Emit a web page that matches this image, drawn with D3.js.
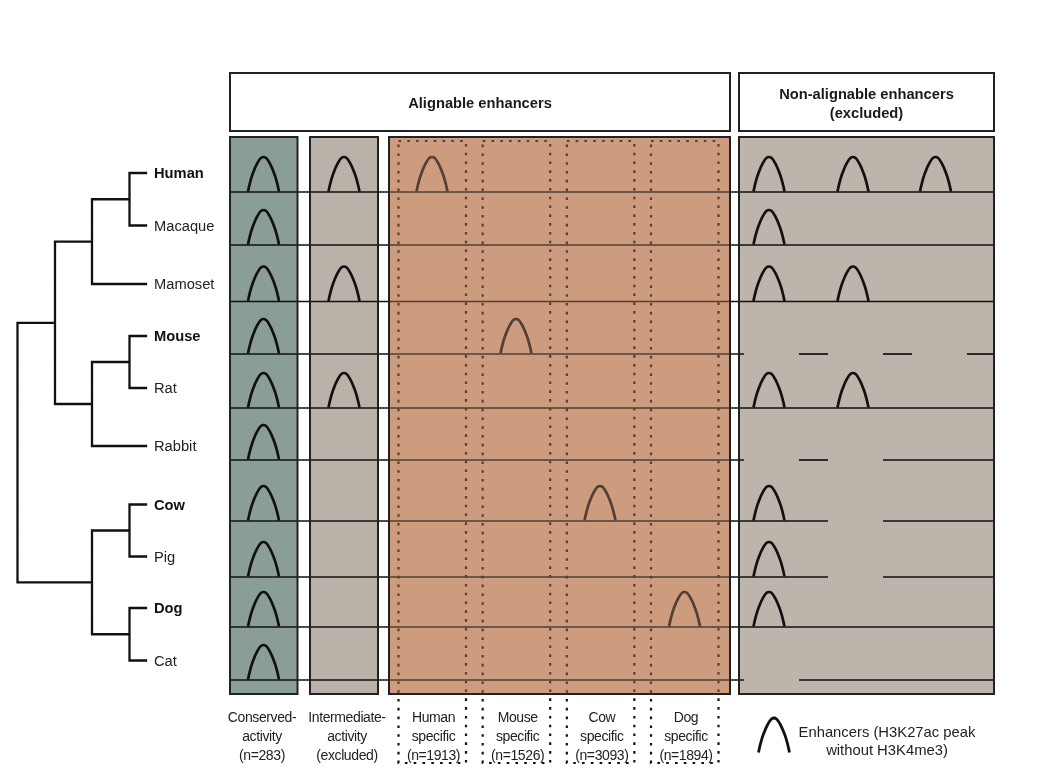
<!DOCTYPE html>
<html>
<head>
<meta charset="utf-8">
<title>Alignable and non-alignable enhancers</title>
<script src="https://cdn.jsdelivr.net/npm/d3@7"></script>
<style>
  html, body { margin: 0; background: #fff; }
  svg { display: block; filter: blur(0.4px); }
  text { font-family: "Liberation Sans", Arial, sans-serif; }
</style>
</head>
<body>
<div id="chart"></div>
<script>
// ── Data ─────────────────────────────────────
const species  = ["Human","Macaque","Mamoset","Mouse","Rat","Rabbit","Cow","Pig","Dog","Cat"];
const boldSpecies = ["Human","Mouse","Cow","Dog"];

// row positions, in px below the panel top
const rowBaseline = [55, 108, 164.5, 217, 271, 323, 384, 440, 490, 543];
const leafLevel   = [36, 88.5, 147, 199, 251, 309, 367.5, 419.5, 471, 523.5];

// column centres along the track, in px from its left end
const peakSlots = [33.5, 114, 202, 286, 370, 454.5, 539, 623, 705.5];

const conservedPeaks    = species;
const intermediatePeaks = ["Human","Mamoset","Rat"];
const humanPeaks  = ["Human"];
const mousePeaks  = ["Mouse"];
const cowPeaks    = ["Cow"];
const dogPeaks    = ["Dog"];
const nonAlign1   = ["Human","Macaque","Mamoset","Rat","Cow","Pig","Dog"];
const nonAlign2   = ["Human","Mamoset","Rat"];
const nonAlign3   = ["Human"];

// missing stretches of each track
const trackGaps = {
  Mouse:  [[514,569],[598,653],[682,737]],
  Rabbit: [[514,569],[598,653]],
  Cow:    [[598,653]],
  Pig:    [[598,653]],
  Cat:    [[514,569]],
};

const specificNames  = ["Human","Mouse","Cow","Dog"];
const specificCounts = [1913, 1526, 3093, 1894];
const headerAlign    = ["Alignable enhancers"];
const headerNon      = ["Non-alignable enhancers","(excluded)"];
const legendLines    = ["Enhancers (H3K27ac peak","without H3K4me3)"];

const phylogeny = { children: [
  { children: [
    { children: [ { children: [{name:"Human"},{name:"Macaque"}] }, {name:"Mamoset"} ] },
    { children: [ { children: [{name:"Mouse"},{name:"Rat"}] }, {name:"Rabbit"} ] },
  ]},
  { children: [
    { children: [{name:"Cow"},{name:"Pig"}] },
    { children: [{name:"Dog"},{name:"Cat"}] },
  ]},
]};

// ── Colours ──────────────────────────────────
const INK    = "#111111";
const TEAL   = "#8b9d97";
const TAUPE  = "#bab2a9";
const ORANGE = "#cd9b7e";
const LABEL  = "#222222";

// ── Layout ───────────────────────────────────
const W = 1038, H = 782;
const PANEL_TOP = 137, PANEL_BOTTOM = 694;
const TRACK_LEFT = 230, TRACK_RIGHT = 994;
const HEADER_TOP = 73, HEADER_BOTTOM = 131;
const PEAK_HEIGHT = 34.5, PEAK_HALF = 15.5;

const svg = d3.select("#chart").append("svg").attr("width", W).attr("height", H);

const yScale = d3.scaleLinear().domain([0, PANEL_BOTTOM - PANEL_TOP]).range([PANEL_TOP, PANEL_BOTTOM]);
const xScale = d3.scaleLinear().domain([0, TRACK_RIGHT - TRACK_LEFT]).range([TRACK_LEFT, TRACK_RIGHT]);
const rowY   = d3.scaleOrdinal().domain(species).range(rowBaseline.map(yScale));
const leafY  = d3.scaleOrdinal().domain(species).range(leafLevel.map(yScale));

// ── Panels ───────────────────────────────────
const panels = [
  { x0: 230, x1: 297.5, fill: TEAL },
  { x0: 310, x1: 378,   fill: TAUPE },
  { x0: 389, x1: 730,   fill: ORANGE },
  { x0: 739, x1: 994,   fill: "#bdb5ab" },
];
svg.append("g").selectAll("rect").data(panels).join("rect")
  .attr("x", d => d.x0).attr("y", PANEL_TOP)
  .attr("width", d => d.x1 - d.x0).attr("height", PANEL_BOTTOM - PANEL_TOP)
  .attr("fill", d => d.fill);

// ── Tracks (baselines with gaps) ─────────────
function trackSegments(name) {
  const gaps = trackGaps[name] || [];
  const edges = [0, ...gaps.flat(), TRACK_RIGHT - TRACK_LEFT];
  return d3.range(0, edges.length, 2).map(i => ({ name, from: edges[i], to: edges[i + 1] }));
}
svg.append("g").selectAll("line").data(species.flatMap(trackSegments)).join("line")
  .attr("x1", d => xScale(d.from)).attr("x2", d => xScale(d.to))
  .attr("y1", d => rowY(d.name)).attr("y2", d => rowY(d.name))
  .attr("stroke", INK).attr("stroke-width", 1.7);

// ── Peaks ────────────────────────────────────
const peakColumns = [conservedPeaks, intermediatePeaks, humanPeaks, mousePeaks, cowPeaks, dogPeaks,
  nonAlign1, nonAlign2, nonAlign3];

const peakPath = d3.line().curve(d3.curveCatmullRom.alpha(0.5))
  .x(d => d[0] * PEAK_HALF).y(d => -d[1] * PEAK_HEIGHT);
const peakShape = [[-1,0],[-.87,.26],[-.69,.52],[-.4,.82],[-.17,.97],[0,1],[.17,.97],[.4,.82],[.69,.52],[.87,.26],[1,0]];

svg.append("g").selectAll("path")
  .data(peakColumns.flatMap((names, i) => names.map(name => ({ name, slot: peakSlots[i] }))))
  .join("path")
  .attr("transform", d => `translate(${xScale(d.slot)},${rowY(d.name) - 0.5})`)
  .attr("d", peakPath(peakShape))
  .attr("fill", "none").attr("stroke", INK).attr("stroke-width", 2.7);

// ── Dotted species-specific boxes ────────────
const boxLeft = d3.scalePoint().domain(specificNames).range([398.5, 651]);
svg.append("g").selectAll("rect").data(specificNames).join("rect")
  .attr("x", d => boxLeft(d)).attr("y", 141)
  .attr("width", 67.5).attr("height", 622)
  .attr("fill", "none").attr("stroke", INK)
  .attr("stroke-width", 2.2).attr("stroke-dasharray", "2.6,6.2");

// Orange veil: everything under it turns brown, as in the figure
const orangePanel = panels[2];
svg.append("rect")
  .attr("x", orangePanel.x0).attr("y", PANEL_TOP)
  .attr("width", orangePanel.x1 - orangePanel.x0).attr("height", PANEL_BOTTOM - PANEL_TOP)
  .attr("fill", ORANGE).attr("fill-opacity", 0.34);

// Panel outlines
svg.append("g").selectAll("rect").data(panels).join("rect")
  .attr("x", d => d.x0).attr("y", PANEL_TOP)
  .attr("width", d => d.x1 - d.x0).attr("height", PANEL_BOTTOM - PANEL_TOP)
  .attr("fill", "none").attr("stroke", "#222222").attr("stroke-width", 2);

// ── Headers ──────────────────────────────────
const headers = [
  { x0: 230, x1: 730, lines: headerAlign, top: 103 },
  { x0: 739, x1: 994, lines: headerNon,   top: 93.5 },
];
const headerG = svg.append("g").selectAll("g").data(headers).join("g");
headerG.append("rect")
  .attr("x", d => d.x0).attr("y", HEADER_TOP)
  .attr("width", d => d.x1 - d.x0).attr("height", HEADER_BOTTOM - HEADER_TOP)
  .attr("fill", "#fff").attr("stroke", "#222222").attr("stroke-width", 2);
headerG.selectAll("text").data(d => d.lines.map((t, i) => ({ t, i, d }))).join("text")
  .attr("x", e => (e.d.x0 + e.d.x1) / 2)
  .attr("y", e => e.d.top + e.i * 19)
  .attr("dy", "0.35em").attr("text-anchor", "middle")
  .attr("font-size", "14.7px").attr("font-weight", "bold").attr("fill", "#1a1a1a")
  .text(e => e.t);

// ── Phylogeny ────────────────────────────────
const root = d3.hierarchy(phylogeny);
const treeX = d3.scaleOrdinal().domain([0,1,2,3,4]).range([146, 129.5, 92, 55, 17.5]);
root.eachAfter(n => {
  n.px = treeX(n.height);
  n.py = n.children ? d3.mean(n.children, c => c.py) : leafY(n.data.name);
});
const treePath = d3.path();
root.descendants().forEach(n => {
  if (n.parent) {
    treePath.moveTo(n.parent.px, n.py);
    treePath.lineTo(n.px, n.py);
  }
  if (n.children) {
    treePath.moveTo(n.px, n.children[0].py);
    treePath.lineTo(n.px, n.children[n.children.length - 1].py);
  }
});
svg.append("path").attr("d", treePath.toString())
  .attr("fill", "none").attr("stroke", INK).attr("stroke-width", 2.3).attr("stroke-linecap", "square");

svg.append("g").selectAll("text").data(species).join("text")
  .attr("x", 154).attr("y", d => leafY(d))
  .attr("dy", "0.35em")
  .attr("font-size", "14.7px").attr("fill", d => boldSpecies.includes(d) ? "#111" : LABEL)
  .attr("font-weight", d => boldSpecies.includes(d) ? "bold" : "normal")
  .text(d => d);

// ── Column captions ──────────────────────────
const captions = [
  { cx: 262, lines: ["Conserved-","activity","(n=283)"] },
  { cx: 347, lines: ["Intermediate-","activity","(excluded)"] },
  ...specificNames.map((name, i) => ({
    cx: boxLeft(name) + 35,
    lines: [name, "specific", `(n=${specificCounts[i]})`],
  })),
];
svg.append("g").selectAll("text")
  .data(captions.flatMap(c => c.lines.map((t, i) => ({ t, i, cx: c.cx }))))
  .join("text")
  .attr("x", d => d.cx).attr("y", d => 717 + d.i * 19)
  .attr("dy", "0.35em").attr("text-anchor", "middle")
  .attr("font-size", "14px").attr("letter-spacing", "-0.4px").attr("fill", LABEL)
  .text(d => d.t);

// ── Legend ───────────────────────────────────
svg.append("path")
  .attr("transform", "translate(774,752.5)")
  .attr("d", peakPath(peakShape))
  .attr("fill", "none").attr("stroke", INK).attr("stroke-width", 2.8);
svg.append("g").selectAll("text").data(legendLines).join("text")
  .attr("x", 887).attr("y", (d, i) => 731.5 + i * 18.5)
  .attr("dy", "0.35em").attr("text-anchor", "middle")
  .attr("font-size", "14.8px").attr("fill", LABEL)
  .text(d => d);
</script>
</body>
</html>
